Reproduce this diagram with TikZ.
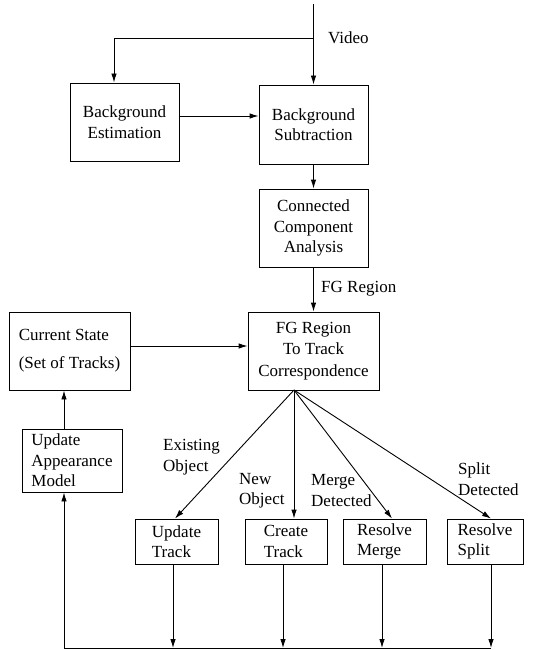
\documentclass[tikz,border=0pt]{standalone}
\usepackage{fontspec}
\setmainfont{Liberation Serif}
\usetikzlibrary{arrows.meta}
\begin{document}
\begin{tikzpicture}[x=1pt,y=-1pt,
  every node/.style={font=\fontsize{17}{20.5}\selectfont},
  box/.style={draw,line width=0.9pt,inner sep=0pt},
  lbl/.style={inner sep=0pt,anchor=west,align=left},
  conn/.style={line width=0.9pt},
  arr/.style={line width=0.9pt,-{Latex[length=9pt,width=5.5pt]}}]
\useasboundingbox (0,0) rectangle (535,650);
% boxes
\node[box,minimum width=109,minimum height=78,align=center] (BE) at (124.5,122) {Background\\Estimation};
\node[box,minimum width=109,minimum height=79,align=center] (BS) at (313.5,124.5) {Background\\Subtraction};
\node[box,minimum width=109,minimum height=78,align=center] (CCA) at (313.5,228) {Connected\\Component\\Analysis};
\node[box,minimum width=131,minimum height=78,align=center,font=\fontsize{17}{21.5}\selectfont] (FGR) at (313.5,351) {FG Region\\To Track\\Correspondence};
\node[box,minimum width=121,minimum height=78,align=left,font=\fontsize{17}{28}\selectfont] (CS) at (69.5,351) {Current State\\(Set of Tracks)};
\node[box,minimum width=100,minimum height=63,align=left] (UAM) at (72,460.5) {Update\\Appearance\\Model};
\node[box,minimum width=83,minimum height=45,align=left] (UT) at (176.5,541.5) {Update\\Track};
\node[box,minimum width=82,minimum height=45,align=left] (CT) at (286,541.5) {Create\\Track};
\node[box,minimum width=83,minimum height=45,align=left] (RM) at (384.5,541.5) {Resolve\\Merge};
\node[box,minimum width=76,minimum height=45,align=left] (RS) at (485,541.5) {Resolve\\Split};
% labels
\node[lbl] (vid) at (328,38) {Video};
\node[lbl] (fgl) at (321,289) {FG Region};
\node[lbl] (exl) at (163,457) {Existing\\Object};
\node[lbl] (nwl) at (239,490.5) {New\\Object};
\node[lbl] (mgl) at (311,490.5) {Merge\\Detected};
\node[lbl] (spl) at (458,479) {Split\\Detected};
% coordinates
\coordinate (top) at (313.5,4);
\coordinate (br) at (313.5,38);
\coordinate (fan) at (294,390);
\coordinate (b1) at (64,648);
\coordinate (b2) at (491,648);
% connectors
\draw[arr] (top) -- (BS.north);
\draw[arr] (br) -| ([xshift=-10.5]BE.north);
\draw[arr] (BE.east |- 0,116) -- (BS.west |- 0,116);
\draw[arr] (BS) -- (CCA);
\draw[arr] (CCA) -- (FGR);
\draw[arr] (CS.east |- 0,346) -- (FGR.west |- 0,346);
\draw[arr] (UAM.north -| 64,0) -- (CS.south -| 64,0);
\draw[arr] (fan) -- ([xshift=-1.5]UT.north);
\draw[arr] (fan) -- (fan |- CT.north);
\draw[arr] (fan) -- ([xshift=7.5]RM.north);
\draw[arr] (fan) -- ([xshift=6]RS.north);
\draw[arr] (UT.south -| 173,0) -- (173,648);
\draw[arr] (CT.south -| 283,0) -- (283,648);
\draw[arr] (RM.south -| 382,0) -- (382,648);
\draw[arr] (RS.south -| 491,0) -- (491,648);
\draw[conn] (b2) -- (b1);
\draw[arr] (b1) -- (UAM.south -| b1);
\end{tikzpicture}
\end{document}
